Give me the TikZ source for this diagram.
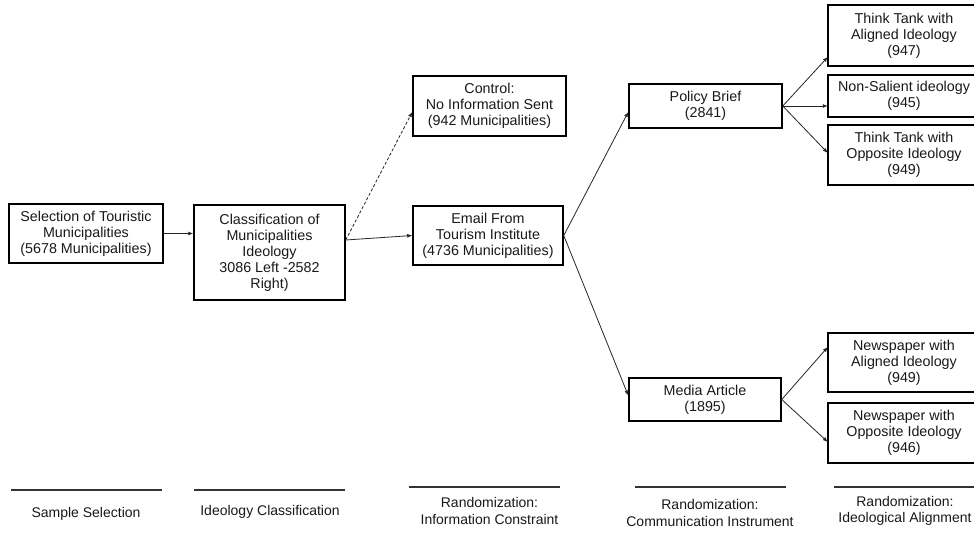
\documentclass[tikz,border=0pt]{standalone}
\usepackage{fontspec}
\setmainfont{Liberation Sans}
\usetikzlibrary{arrows.meta,calc}
\begin{document}
\begin{tikzpicture}[x=1pt,y=-1pt,
  bx/.style={draw=black, line width=1.5pt, inner sep=0pt, align=center,
    font=\fontsize{14.3}{16}\selectfont, text=black!90},
  cut/.style={inner sep=0pt, align=center, font=\fontsize{14.3}{16}\selectfont, text=black!90},
  edge/.style={draw=black, line width=1.5pt},
  conn/.style={draw=black!85, line width=0.8pt, -{Latex[length=5pt,width=4pt]}},
  dconn/.style={conn, dash pattern=on 3pt off 2pt},
  rule/.style={draw=black!80, line width=1.1pt},
  lab/.style={inner sep=0pt, align=center, font=\fontsize{14}{16.5}\selectfont, text=black!90}]
\useasboundingbox[fill=white] (0,0) rectangle (974,533);

% boxes
\node[bx, minimum width=154pt, minimum height=59pt] (A) at (86,233.5) {Selection of Touristic\\Municipalities\\(5678 Municipalities)};
\node[bx, minimum width=151pt, minimum height=95pt] (B) at (269.5,252.5) {Classification of\\Municipalities\\Ideology\\3086 Left -2582\\Right)};
\node[bx, minimum width=153pt, minimum height=60pt] (C) at (489.5,106) {Control:\\No Information Sent\\(942 Municipalities)};
\node[bx, minimum width=150pt, minimum height=59pt] (D) at (488,235.5) {Email From\\Tourism Institute\\(4736 Municipalities)};
\node[bx, minimum width=153pt, minimum height=44pt] (E) at (705.5,106) {Policy Brief\\(2841)};
\node[bx, minimum width=152pt, minimum height=43pt] (I) at (705,399.5) {Media Article\\(1895)};
% boxes cut by the right edge of the picture
\node[cut, minimum width=152pt, minimum height=61pt] (F) at (904,35.5) {Think Tank with\\Aligned Ideology\\(947)};
\node[cut, minimum width=152pt, minimum height=42pt] (G) at (904,96) {Non-Salient ideology\\(945)};
\node[cut, minimum width=152pt, minimum height=60pt] (H) at (904,155) {Think Tank with\\Opposite Ideology\\(949)};
\node[cut, minimum width=152pt, minimum height=59pt] (J) at (904,362.5) {Newspaper with\\Aligned Ideology\\(949)};
\node[cut, minimum width=152pt, minimum height=60pt] (K) at (904,433) {Newspaper with\\Opposite Ideology\\(946)};
\foreach \n in {F,G,H,J,K}
  \draw[edge] (\n.south west) rectangle ([xshift=12pt]\n.north east);

% connectors
\coordinate (bo) at ([yshift=12.5pt]B.east);
\draw[conn] (A.east) -- (A.east -| B.west);
\draw[dconn] (bo) -- ([yshift=-6pt]C.west);
\draw[conn] (bo) -- (D.west);
\draw[conn] (D.east) -- ([yshift=-6pt]E.west);
\draw[conn] (D.east) -- ([yshift=4pt]I.west);
\draw[conn] (E.east) -- ([yshift=-21.5pt]F.west);
\draw[conn] (E.east) -- (E.east -| G.west);
\draw[conn] (E.east) -- ([yshift=2pt]H.west);
\draw[conn] (I.east) -- ([yshift=15.5pt]J.west);
\draw[conn] (I.east) -- ([yshift=-9pt]K.west);

% stage rules
\coordinate (r1a) at (11,490);  \coordinate (r1b) at (162,490);
\coordinate (r2a) at (194,490); \coordinate (r2b) at (345,490);
\coordinate (r3a) at (409,487); \coordinate (r3b) at (560,487);
\coordinate (r4a) at (635,487); \coordinate (r4b) at (786,487);
\coordinate (r5a) at (834,487); \coordinate (r5b) at (990,487);
\draw[rule] (r1a) -- (r1b);
\draw[rule] (r2a) -- (r2b);
\draw[rule] (r3a) -- (r3b);
\draw[rule] (r4a) -- (r4b);
\draw[rule] (r5a) -- (r5b);

% stage labels
\node[lab, anchor=base] (L1) at (86,517) {Sample Selection};
\node[lab, anchor=base] (L2) at (270,515) {Ideology Classification};
\node[lab] (L3) at (489.5,511) {Randomization:\\Information Constraint};
\node[lab] (L4) at (710,513) {Randomization:\\Communication Instrument};
\node[lab] (L5) at (905,511) {Randomization:\\Ideological Alignment};
\end{tikzpicture}
\end{document}
